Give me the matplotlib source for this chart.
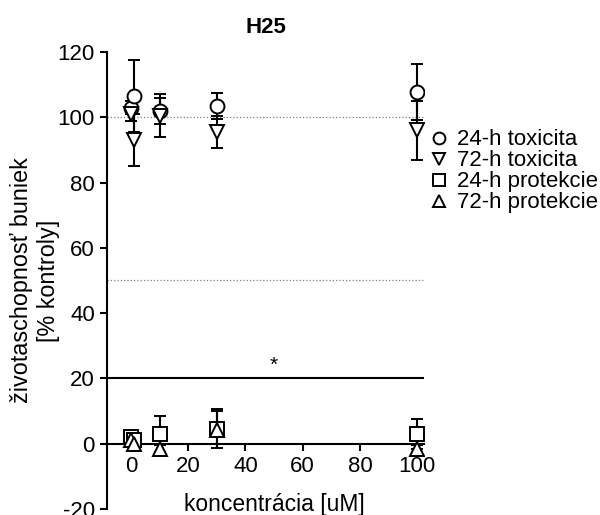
import matplotlib.pyplot as plt

plt.rcParams['font.family'] = ['Liberation Sans', 'DejaVu Sans']
plt.rcParams['axes.unicode_minus'] = False

# data
conc = [0, 1, 10, 30, 100]
tox24 = [103, 106.5, 102, 103.5, 107.8]
tox24_err = [2, 11, 4, 4, 8.5]
tox72 = [101, 93, 100.5, 95.5, 96]
tox72_err = [2, 8, 6.5, 5, 9]
prot24 = [2, 1, 3, 4.6, 3]
prot24_err = [1.5, 1.5, 5.6, 6, 4.7]
prot72 = [1, 0, -1.5, 4.3, -1.5]
prot72_err = [1, 1.5, 1, 5.6, 1]

fig = plt.figure(figsize=(6, 5.15), dpi=100)
ax = fig.add_axes([0.178, 0.0117, 0.529, 0.8873])

ax.axhline(100, color='gray', ls=':', lw=0.9)
ax.axhline(50, color='gray', ls=':', lw=0.9)
ax.axhline(20, color='black', lw=1.5)
ax.text(50, 21, '*', ha='center', va='bottom', fontsize=15)

series = [
    (tox24, tox24_err, 'o', '24-h toxicita'),
    (tox72, tox72_err, 'v', '72-h toxicita'),
    (prot24, prot24_err, 's', '24-h protekcie'),
    (prot72, prot72_err, '^', '72-h protekcie'),
]
handles = []
for y, e, m, lab in series:
    h = ax.errorbar(conc, y, yerr=e, fmt=m, ms=10, mfc='white', mec='black',
                    mew=1.4, ecolor='black', elinewidth=1.5, capsize=4,
                    capthick=1.5, label=lab, zorder=3)
    handles.append(h[0])

ax.set_xlim(-8.4, 102.4)
ax.set_ylim(-20, 120)
ax.set_yticks(range(-20, 121, 20))
ax.set_xticks(range(0, 101, 20))
ax.spines['top'].set_visible(False)
ax.spines['right'].set_visible(False)
ax.spines['bottom'].set_position(('data', 0))
for s in ['left', 'bottom']:
    ax.spines[s].set_linewidth(1.5)
ax.tick_params(width=1.5, length=5, labelsize=16)

ax.set_ylabel('životaschopnosť buniek\n[% kontroly]', fontsize=16.8)
ax.yaxis.set_label_coords(-0.148, 0.5)
ax.text(50, -18.6, 'koncentrácia [uM]', ha='center', va='center', fontsize=16.5)
ax.set_title('H25', fontsize=16, fontweight='bold', pad=14)

ax.legend(handles=handles, labels=[s[3] for s in series], loc='upper left',
          bbox_to_anchor=(0.985, 0.85), frameon=False, fontsize=16,
          handletextpad=0.3, labelspacing=0.0, handlelength=1.0,
          borderaxespad=0, markerscale=0.85)

fig.savefig('out.png')
